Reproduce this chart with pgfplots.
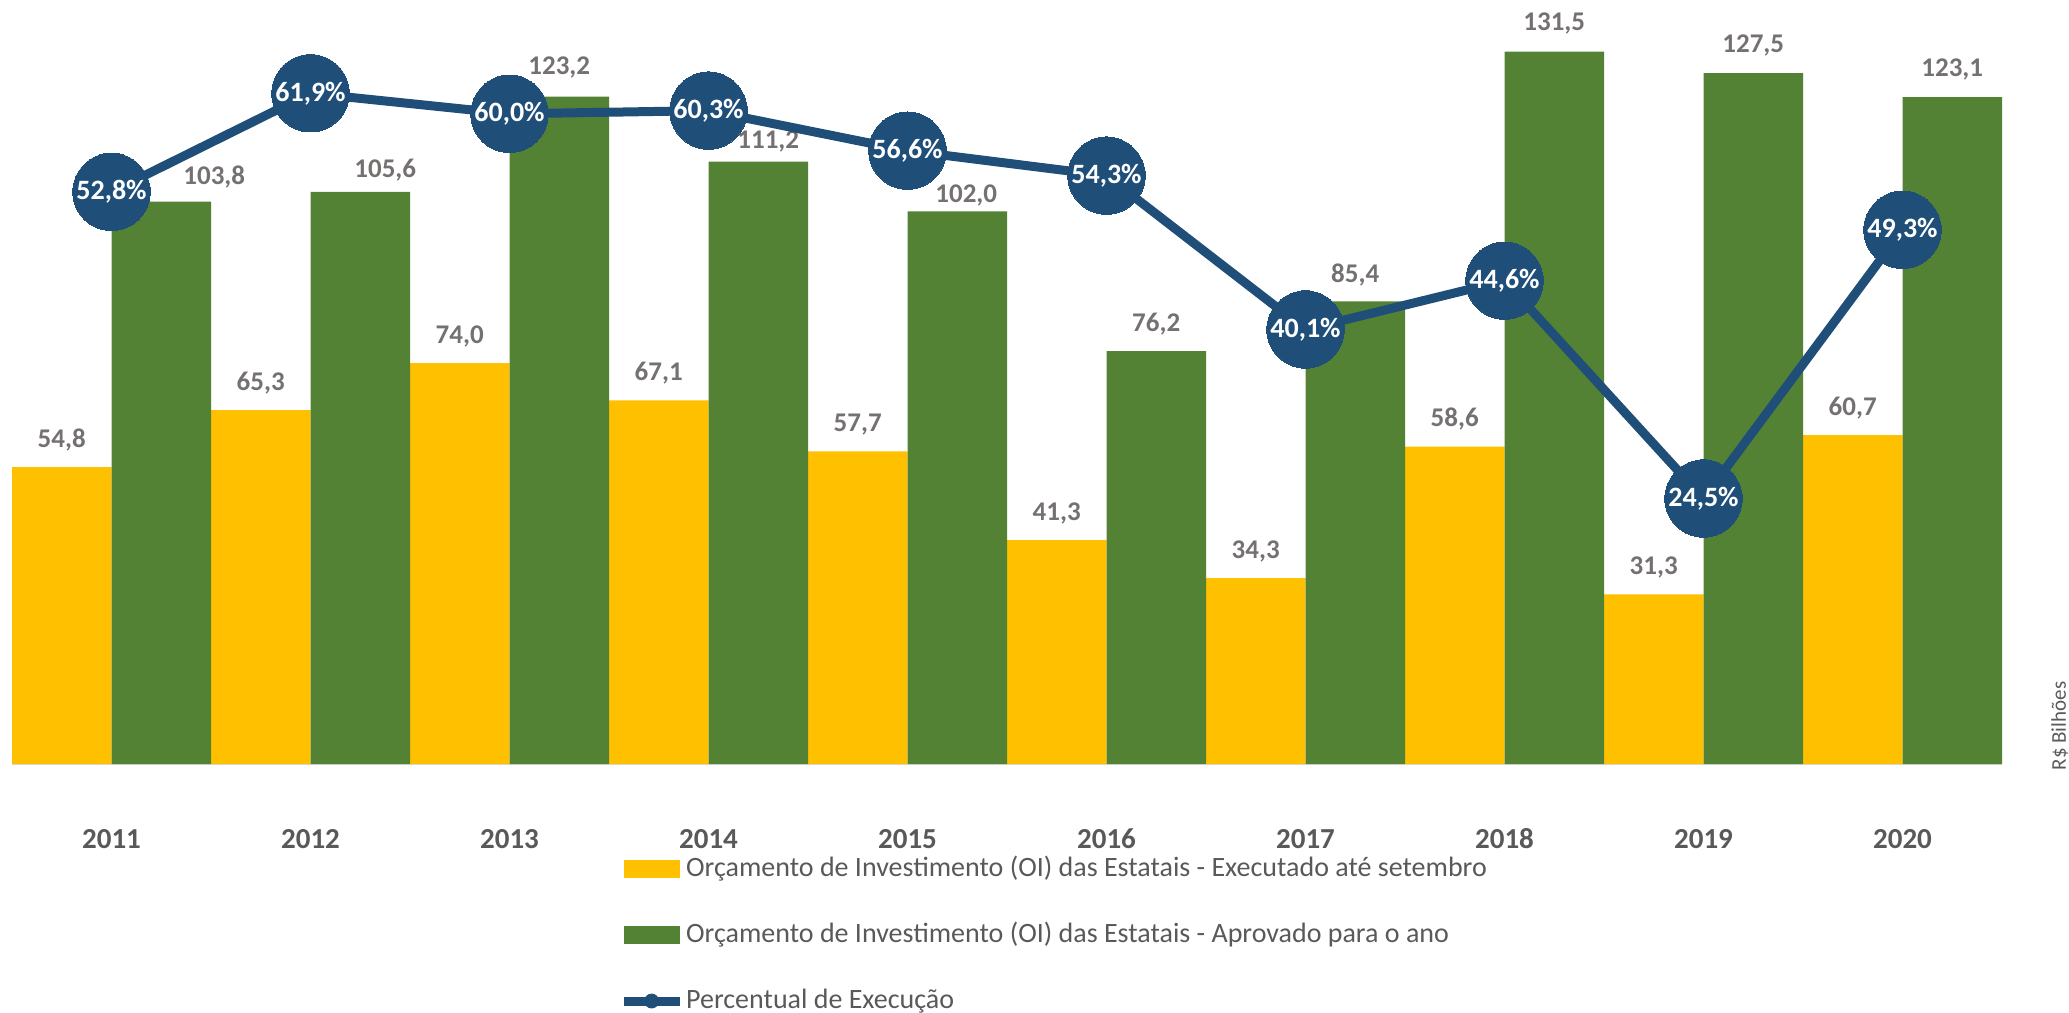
\documentclass[border=0pt]{standalone}
\usepackage{pgfplots}
\pgfplotsset{compat=1.18}
\usepackage{pgfplotstable}
\usepackage{fontspec}
\setmainfont{Carlito}
\definecolor{cyel}{HTML}{FFC000}
\definecolor{cgrn}{HTML}{548235}
\definecolor{cblu}{HTML}{1F4E79}
\definecolor{clab}{HTML}{767171}
\definecolor{ctxt}{HTML}{595959}
\definecolor{caxis}{HTML}{D9D9D9}

\pgfplotstableread{
x exec aprov dx dy pct
0 54.8 103.8 26.5 8.5 52.8
1 65.3 105.6 12.5 7 61.9
2 74.0 123.2 0 11 60.0
3 67.1 111.2 5 6.3 60.3
4 57.7 102.0 4.5 4.3 56.6
5 41.3 76.2 0 10 54.3
6 34.3 85.4 0 9.3 40.1
7 58.6 131.5 0 10.5 44.6
8 31.3 127.5 0 10.5 24.5
9 60.7 123.1 0 10.5 49.3
}\data

\begin{document}
\begin{tikzpicture}[x=1pt,y=1pt]
\useasboundingbox (0,0) rectangle (1034.5,506.5);
\begin{axis}[
  at={(6pt,124.5pt)}, anchor=south west,
  scale only axis, width=995pt, height=379.25pt,
  xmin=-0.5, xmax=9.5, ymin=0, ymax=140,
  ybar=0pt, bar width=49.75pt,
  axis x line*=bottom, axis y line=none,
  x axis line style={draw=caxis, line width=1pt, -},
  xtick={0,1,2,3,4,5,6,7,8,9},
  xticklabels={2011,2012,2013,2014,2015,2016,2017,2018,2019,2020},
  major tick length=0pt,
  xticklabel style={font=\fontsize{14.5}{16}\selectfont\bfseries, text=ctxt, anchor=base, yshift=-42pt},
  ytick=\empty,
  /pgf/number format/assume math mode=true,
  clip=false,
  legend cell align=left,
  legend style={at={(0.3049,-0.1208)}, anchor=north west, draw=none, fill=none, inner sep=0pt,
    row sep=20pt, font=\fontsize{14}{16}\selectfont, text=ctxt,
    nodes={inner sep=0pt, text height=10pt, text depth=3pt},
    /tikz/every odd column/.append style={column sep=1pt}},
]
\addplot[fill=cyel, draw=none,
  nodes near coords={\pgfmathprintnumber[fixed,fixed zerofill,precision=1,use comma]{\pgfplotspointmeta}},
  every node near coord/.append style={anchor=base, yshift=10pt, font=\fontsize{13.5}{16}\selectfont\bfseries, text=clab},
  legend image code/.code={\fill[cyel] (0pt,-4.5pt) rectangle (28pt,4.5pt);}]
  table[x=x,y=exec]{\data};
\addlegendentry{Orçamento de Investimento (OI) das Estatais - Executado até setembro}
\addplot[fill=cgrn, draw=none,
  visualization depends on={\thisrow{dx}\as\dx},
  visualization depends on={\thisrow{dy}\as\dy},
  nodes near coords={\pgfmathprintnumber[fixed,fixed zerofill,precision=1,use comma]{\pgfplotspointmeta}},
  every node near coord/.append style={anchor=base, xshift=\dx*1pt, yshift=\dy*1pt, font=\fontsize{13.5}{16}\selectfont\bfseries, text=clab},
  legend image code/.code={\fill[cgrn] (0pt,-4.5pt) rectangle (28pt,4.5pt);}]
  table[x=x,y=aprov]{\data};
\addlegendentry{Orçamento de Investimento (OI) das Estatais - Aprovado para o ano}
\addlegendimage{legend image code/.code={\draw[cblu, line width=4.5pt] (0pt,0pt)--(28pt,0pt); \fill[cblu] (14pt,0pt) circle (3.5pt);}}
\addlegendentry{Percentual de Execução}
\node[rotate=90, font=\fontsize{10.5}{12}\selectfont, text=ctxt] at (axis description cs:1.029,0.05) {R\$ Bilhões};
\end{axis}
\begin{axis}[
  at={(6pt,124.5pt)}, anchor=south west,
  scale only axis, width=995pt, height=379.25pt,
  xmin=-0.5, xmax=9.5, ymin=0, ymax=70,
  hide axis, clip=false,
  /pgf/number format/assume math mode=true,
]
\addplot[cblu, line width=4.5pt, mark=*, mark size=19.35pt,
  mark options={fill=cblu, draw=cblu, line width=0pt},
  nodes near coords={\pgfmathprintnumber[fixed,fixed zerofill,precision=1,use comma]{\pgfplotspointmeta}\%},
  every node near coord/.append style={anchor=center, font=\fontsize{14}{16}\selectfont\bfseries, text=white}]
  table[x=x,y=pct]{\data};
\end{axis}
\end{tikzpicture}
\end{document}
